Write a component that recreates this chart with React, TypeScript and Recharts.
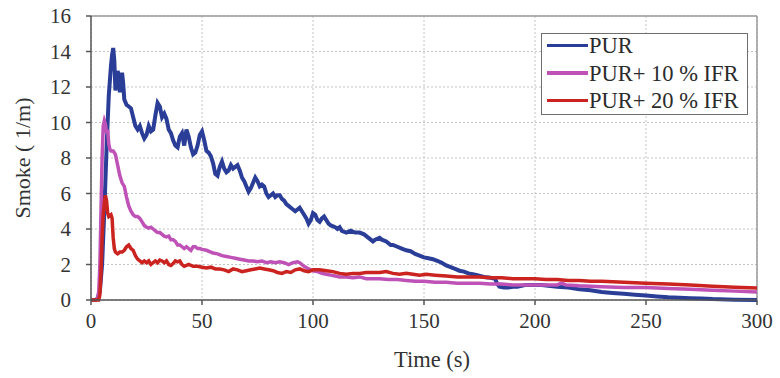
import React from 'react';
import { LineChart, Line, XAxis, YAxis, CartesianGrid, Legend, ReferenceLine } from 'recharts';

const xTicks = [0, 50, 100, 150, 200, 250, 300];
const yTicks = [0, 2, 4, 6, 8, 10, 12, 14, 16];

const purT = [0, 2, 3, 4, 5, 6, 7, 8, 9, 9.5, 10, 10.5, 11, 11.5, 12, 12.5, 13, 13.5, 14, 14.5, 15, 16, 17, 18, 19, 20, 21, 22, 23, 24, 25, 26, 27, 28, 29, 30, 31, 32, 33, 34, 35, 36, 37, 38, 39, 40, 41, 42, 43, 44, 45, 46, 47, 48, 49, 50, 51, 52, 53, 54, 55, 56, 57, 58, 59, 60, 61, 62, 63, 64, 65, 66, 67, 68, 69, 70, 71, 72, 73, 74, 75, 76, 77, 78, 79, 80, 81, 82, 83, 84, 85, 86, 87, 88, 89, 90, 91, 92, 93, 94, 95, 96, 97, 98, 99, 100, 101, 102, 103, 104, 105, 106, 107, 108, 110, 111, 112, 113, 115, 117, 119, 121, 123, 125, 127, 128, 130, 131, 133, 135, 136, 138, 140, 142, 144, 146, 148, 150, 152, 154, 156, 158, 160, 162, 164, 166, 168, 170, 172, 174, 177, 180, 182, 183, 184, 186, 188, 190, 192, 194, 196, 198, 200, 203, 206, 210, 215, 220, 225, 230, 235, 240, 245, 250, 255, 260, 265, 270, 275, 280, 290, 300];
const purV = [0, 0, 0.1, 0.5, 2, 5, 8.5, 11.5, 13.2, 13.8, 14.2, 13.5, 11.8, 12.5, 12.9, 12.6, 11.7, 12.3, 12.8, 12.2, 11.3, 11.0, 10.9, 10.8, 10.3, 9.8, 9.6, 9.8, 9.4, 9.1, 9.3, 9.8, 9.5, 9.6, 10.4, 11.1, 10.9, 10.3, 10.5, 10.2, 9.6, 9.4, 9.0, 8.7, 8.6, 9.2, 9.4, 8.7, 9.6, 9.2, 8.6, 8.2, 8.3, 8.7, 9.3, 9.5, 9.0, 8.4, 8.3, 8.1, 7.7, 7.1, 7.0, 7.5, 7.8, 7.4, 7.2, 7.3, 7.6, 7.4, 7.5, 7.6, 7.3, 6.9, 6.7, 6.4, 6.1, 6.3, 6.6, 6.9, 6.7, 6.4, 6.5, 6.4, 6.0, 5.8, 5.9, 6.0, 5.8, 5.9, 5.9, 5.7, 5.6, 5.4, 5.3, 5.2, 5.1, 5.0, 5.1, 5.2, 5.0, 4.8, 4.6, 4.3, 4.5, 4.9, 4.8, 4.5, 4.4, 4.6, 4.7, 4.5, 4.3, 4.2, 4.1, 4.0, 4.1, 3.9, 3.8, 3.9, 3.8, 3.8, 3.7, 3.5, 3.3, 3.4, 3.5, 3.4, 3.3, 3.1, 3.1, 3.0, 2.9, 2.8, 2.75, 2.6, 2.5, 2.4, 2.35, 2.3, 2.2, 2.1, 1.95, 1.85, 1.75, 1.65, 1.6, 1.5, 1.45, 1.4, 1.3, 1.25, 1.2, 0.9, 0.75, 0.7, 0.7, 0.75, 0.75, 0.8, 0.85, 0.85, 0.85, 0.85, 0.8, 0.75, 0.7, 0.6, 0.55, 0.45, 0.4, 0.35, 0.3, 0.25, 0.2, 0.15, 0.12, 0.1, 0.08, 0.05, 0.02, 0.0];

const ifr10T = [0, 2, 3, 3.5, 4, 4.5, 5, 5.5, 6, 6.5, 7, 7.5, 8, 8.5, 9, 10, 11, 12, 13, 14, 15, 16, 17, 18, 19, 20, 21, 22, 23, 24, 25, 26, 27, 28, 29, 30, 31, 32, 33, 34, 35, 36, 37, 38, 39, 40, 41, 42, 43, 44, 45, 46, 47, 48, 49, 50, 52, 54, 55, 57, 59, 61, 63, 65, 67, 69, 71, 73, 75, 77, 79, 81, 83, 85, 87, 89, 91, 93, 94, 96, 98, 100, 102, 104, 106, 108, 110, 112, 115, 118, 121, 124, 127, 130, 134, 138, 142, 146, 150, 155, 160, 165, 170, 175, 180, 185, 190, 195, 200, 205, 210, 212, 214, 220, 230, 240, 250, 260, 270, 280, 290, 300];
const ifr10V = [0, 0, 0.1, 0.5, 2, 5, 8, 9.8, 10.1, 9.9, 9.4, 9.6, 8.8, 8.5, 8.4, 8.4, 8.2, 7.6, 7.0, 6.6, 6.4, 5.8, 5.3, 5.0, 4.8, 4.7, 4.7, 4.6, 4.4, 4.2, 4.1, 4.05, 4.1, 4.0, 3.9, 3.8, 3.8, 3.7, 3.6, 3.55, 3.6, 3.4, 3.4, 3.3, 3.1, 3.1, 3.0, 2.9, 3.0, 2.9, 2.8, 3.0, 3.0, 2.9, 2.9, 2.85, 2.8, 2.7, 2.65, 2.6, 2.5, 2.45, 2.4, 2.35, 2.3, 2.25, 2.2, 2.2, 2.15, 2.2, 2.1, 2.15, 2.1, 2.15, 2.1, 2.0, 2.1, 2.15, 2.1, 1.9, 1.75, 1.65, 1.6, 1.5, 1.45, 1.4, 1.35, 1.3, 1.3, 1.25, 1.3, 1.2, 1.2, 1.2, 1.15, 1.15, 1.1, 1.05, 1.05, 1.0, 1.0, 0.95, 0.95, 0.95, 0.9, 0.9, 0.85, 0.85, 0.85, 0.85, 0.85, 0.95, 0.85, 0.8, 0.75, 0.7, 0.7, 0.65, 0.6, 0.55, 0.5, 0.45];

const ifr20T = [0, 2, 3.5, 4, 4.5, 5, 5.5, 6, 6.5, 7, 7.5, 8, 9, 9.5, 10, 10.5, 11, 12, 13, 14, 15, 16, 17, 18, 19, 20, 21, 22, 23, 24, 25, 26, 27, 28, 29, 30, 31, 32, 33, 34, 35, 36, 37, 38, 39, 40, 41, 42, 43, 44, 46, 48, 50, 52, 54, 56, 58, 60, 62, 64, 66, 68, 70, 72, 74, 76, 78, 80, 82, 84, 86, 88, 90, 92, 94, 96, 98, 100, 103, 106, 109, 112, 115, 118, 121, 124, 127, 130, 133, 136, 139, 142, 145, 148, 151, 155, 160, 165, 170, 175, 180, 185, 190, 195, 200, 205, 210, 215, 220, 225, 230, 240, 250, 260, 270, 280, 290, 300];
const ifr20V = [0, 0, 0, 0.3, 1.5, 3.5, 4.8, 5.5, 5.9, 5.6, 4.9, 4.7, 4.8, 4.6, 3.5, 2.9, 2.7, 2.6, 2.7, 2.7, 2.8, 3.0, 3.1, 2.9, 2.8, 2.5, 2.3, 2.2, 2.1, 2.2, 2.1, 2.2, 2.0, 2.1, 2.2, 2.1, 2.25, 2.2, 2.1, 2.2, 2.0, 1.95, 2.05, 2.2, 2.15, 2.2, 2.0, 1.9, 1.95, 2.0, 1.9, 1.9, 1.85, 1.8, 1.85, 1.75, 1.75, 1.7, 1.6, 1.75, 1.7, 1.6, 1.65, 1.7, 1.75, 1.8, 1.75, 1.7, 1.65, 1.55, 1.5, 1.6, 1.55, 1.7, 1.75, 1.65, 1.6, 1.7, 1.7, 1.65, 1.6, 1.5, 1.45, 1.5, 1.5, 1.55, 1.55, 1.55, 1.6, 1.5, 1.45, 1.5, 1.45, 1.4, 1.45, 1.4, 1.35, 1.3, 1.3, 1.3, 1.25, 1.25, 1.2, 1.2, 1.2, 1.15, 1.15, 1.1, 1.1, 1.05, 1.05, 1.0, 0.95, 0.9, 0.85, 0.78, 0.72, 0.68];

const seriesNames = ['PUR', 'PUR+ 10 % IFR', 'PUR+ 20 % IFR'];
const seriesColors = ['#2a3e98', '#bf52b6', '#cb2420'];

const toPts = (ts: number[], vs: number[]) => ts.map((t, i) => ({ t, v: vs[i] }));
const purData = toPts(purT, purV);
const ifr10Data = toPts(ifr10T, ifr10V);
const ifr20Data = toPts(ifr20T, ifr20V);

const FONT = "'Liberation Serif', 'Times New Roman', serif";

const LegendBox = () => (
  <div
    style={{
      position: 'relative',
      width: 207,
      height: 82,
      boxSizing: 'border-box',
      border: '1.5px solid #6e6e6e',
      background: '#fff',
      fontFamily: FONT,
      fontSize: 22.5,
      color: '#2b2b2b',
    }}
  >
    {seriesNames.map((n, i) => (
      <div
        key={n}
        style={{ position: 'absolute', left: 5, top: -2 + i * 27.5, height: 27, display: 'flex', alignItems: 'center' }}
      >
        <div style={{ width: 41, height: 3.5, background: seriesColors[i] }} />
        <span style={{ marginLeft: 1, lineHeight: '27px', whiteSpace: 'nowrap' }}>{n}</span>
      </div>
    ))}
  </div>
);

const YLabel = () => (
  <text
    x={22}
    y={158}
    transform="rotate(-90 22 158)"
    textAnchor="middle"
    dominantBaseline="central"
    fontFamily={FONT}
    fontSize={22}
    fill="#333"
  >
    Smoke ( 1/m)
  </text>
);

export default function App() {
  return (
    <div style={{ position: 'absolute', left: 0, top: 0, width: 780, height: 378, background: '#fff' }}>
      <LineChart width={780} height={378} margin={{ top: 16, right: 23, bottom: 0, left: 0 }}>
        <CartesianGrid stroke="#c4c4c4" strokeDasharray="2 2" />
        <XAxis
          dataKey="t"
          type="number"
          domain={[0, 300]}
          ticks={xTicks}
          allowDataOverflow
          height={78}
          stroke="#555"
          strokeWidth={1.5}
          tickSize={5}
          tickMargin={8}
          tick={{ fill: '#333', fontFamily: FONT, fontSize: 21 }}
          label={{ value: 'Time (s)', position: 'insideBottom', offset: 11, dx: 8, fill: '#333', fontFamily: FONT, fontSize: 22.5 }}
        />
        <YAxis
          type="number"
          domain={[0, 16]}
          ticks={yTicks}
          width={91}
          stroke="#555"
          strokeWidth={1.5}
          tickSize={5}
          tickMargin={15}
          tick={{ fill: '#333', fontFamily: FONT, fontSize: 21 }}
          label={{ content: () => <YLabel /> }}
        />
        <ReferenceLine y={16} stroke="#9a9a9a" strokeWidth={1.5} />
        <ReferenceLine x={300} stroke="#9a9a9a" strokeWidth={1.5} />
        <Line data={purData} dataKey="v" name={seriesNames[0]} type="linear" stroke={seriesColors[0]} strokeWidth={4} dot={false} isAnimationActive={false} />
        <Line data={ifr10Data} dataKey="v" name={seriesNames[1]} type="linear" stroke={seriesColors[1]} strokeWidth={3.5} dot={false} isAnimationActive={false} />
        <Line data={ifr20Data} dataKey="v" name={seriesNames[2]} type="linear" stroke={seriesColors[2]} strokeWidth={3.5} dot={false} isAnimationActive={false} />
        <Legend
          layout="vertical"
          align="center"
          verticalAlign="middle"
          content={() => <LegendBox />}
          wrapperStyle={{ left: 541, top: 33, width: 207, height: 82 }}
        />
      </LineChart>
    </div>
  );
}
